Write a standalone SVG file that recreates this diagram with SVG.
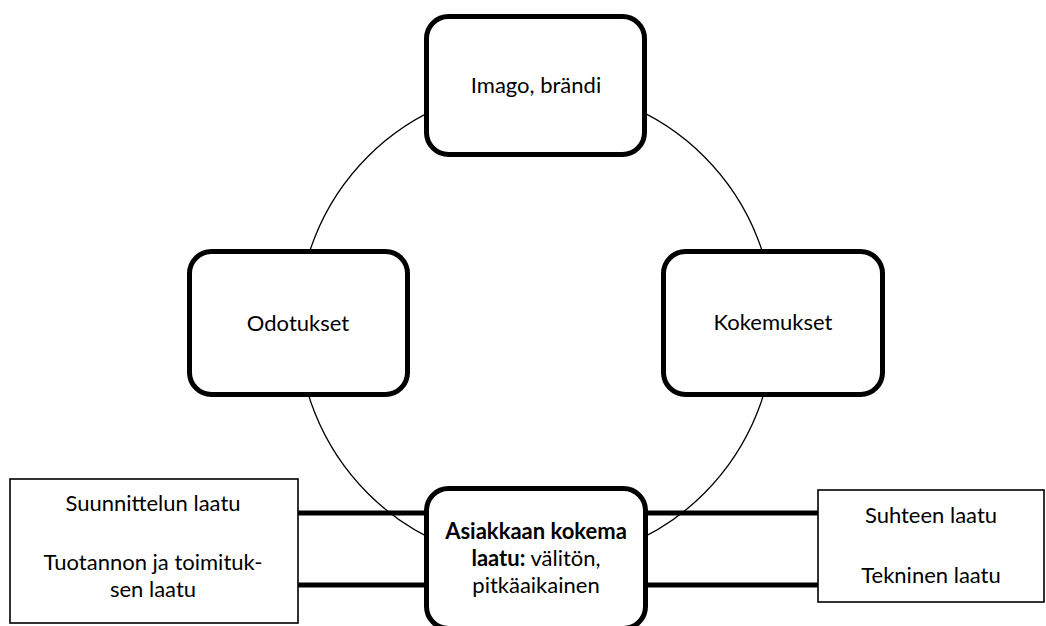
<svg xmlns="http://www.w3.org/2000/svg" width="1046" height="626" viewBox="0 0 1046 626">
<style>
.rbox{fill:#fff;stroke:#000;stroke-width:5}
.sbox{fill:#fff;stroke:#000;stroke-width:1.6}
.conn{stroke:#000;stroke-width:5;fill:none}
.ring{fill:none;stroke:#000;stroke-width:1.3}
text{font-family:Lato,"Open Sans","Liberation Sans",sans-serif;font-size:22px;fill:#000;text-anchor:middle}
.b{font-weight:bold}
</style>
<rect width="1046" height="626" fill="#fff"/>
<g id="ring"><circle class="ring" cx="536" cy="325" r="238"/></g>
<g id="connectors">
<line class="conn" x1="297" y1="513" x2="428" y2="513"/>
<line class="conn" x1="297" y1="585" x2="428" y2="585"/>
<line class="conn" x1="644" y1="513" x2="819" y2="513"/>
<line class="conn" x1="644" y1="585" x2="819" y2="585"/>
</g>
<g id="imago">
<rect class="rbox" x="426.5" y="16.5" width="218" height="138" rx="22"/>
<text x="536" y="93">Imago, brändi</text>
</g>
<g id="odotukset">
<rect class="rbox" x="189.5" y="251.5" width="218" height="143" rx="22"/>
<text x="298" y="331">Odotukset</text>
</g>
<g id="kokemukset">
<rect class="rbox" x="663.5" y="251.5" width="219" height="143" rx="22"/>
<text x="773" y="330">Kokemukset</text>
</g>
<g id="asiakkaan">
<rect class="rbox" x="426.5" y="488.5" width="219" height="140" rx="22"/>
<text x="536" y="539" class="b">Asiakkaan kokema</text>
<text x="536" y="566"><tspan class="b">laatu:</tspan> välitön,</text>
<text x="536" y="593">pitkäaikainen</text>
</g>
<g id="vasen">
<rect class="sbox" x="10" y="479" width="288" height="144"/>
<text x="153" y="511">Suunnittelun laatu</text>
<text x="153" y="570">Tuotannon ja toimituk-</text>
<text x="153" y="597">sen laatu</text>
</g>
<g id="oikea">
<rect class="sbox" x="818" y="490" width="226" height="112"/>
<text x="931" y="523">Suhteen laatu</text>
<text x="931" y="583">Tekninen laatu</text>
</g>
</svg>
